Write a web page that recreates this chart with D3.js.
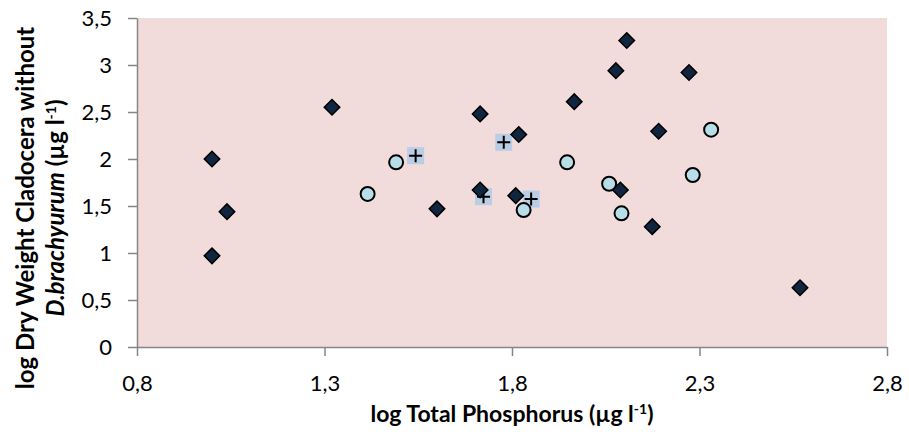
<!DOCTYPE html>
<html>
<head>
<meta charset="utf-8">
<script src="https://cdn.jsdelivr.net/npm/d3@7"></script>
<style>
  body { margin: 0; background: #fff; }
</style>
</head>
<body>
<div id="chart"></div>
<script>
// Data
const diamondX = [1.00, 1.04, 1.00, 1.32, 1.60, 1.715, 1.715, 1.81, 1.818, 1.966, 2.077, 2.106, 2.089, 2.191, 2.174, 2.272, 2.568]
const diamondY = [2.00, 1.44, 0.97, 2.55, 1.47, 2.48, 1.67, 1.61, 2.26, 2.61, 2.94, 3.26, 1.67, 2.295, 1.28, 2.92, 0.63]
const circleX = [1.415, 1.491, 1.831, 1.947, 2.059, 2.092, 2.282, 2.331]
const circleY = [1.628, 1.965, 1.457, 1.965, 1.737, 1.422, 1.83, 2.312]
const crossX = [1.543, 1.778, 1.724, 1.851]
const crossY = [2.035, 2.178, 1.599, 1.574]
const xTicks = [0.8, 1.3, 1.8, 2.3, 2.8]
const yTicks = [0, 0.5, 1, 1.5, 2, 2.5, 3, 3.5]

const toPoints = (xs, ys) => xs.map((x, i) => ({ x: x, y: ys[i] }))
const diamonds = toPoints(diamondX, diamondY)
const circles = toPoints(circleX, circleY)
const crosses = toPoints(crossX, crossY)

// Dimensions
let dimensions = {
  width: 909,
  height: 447,
  margin: { top: 18, bottom: 100, left: 137, right: 22 }
}

const svg = d3.select('#chart')
              .append('svg')
              .attr('width', dimensions.width)
              .attr('height', dimensions.height)

const font = 'Lato, "Open Sans", sans-serif'
const containerWidth = dimensions.width - dimensions.margin.left - dimensions.margin.right
const containerHeight = dimensions.height - dimensions.margin.top - dimensions.margin.bottom

const container = svg.append('g')
                     .attr('transform', `translate(${dimensions.margin.left},${dimensions.margin.top})`)

// Scales
const xScale = d3.scaleLinear().domain([0.8, 2.8]).range([0, containerWidth])
const yScale = d3.scaleLinear().domain([0, 3.5]).range([containerHeight, 0])

const comma = d => String(d).replace('.', ',')

// Plot area
container.append('rect')
         .attr('width', containerWidth)
         .attr('height', containerHeight)
         .attr('fill', '#f2dcdb')

// Axes
const xAxis = d3.axisBottom(xScale).tickValues(xTicks).tickFormat(comma).tickSize(9).tickSizeOuter(0)
const yAxis = d3.axisLeft(yScale).tickValues(yTicks).tickFormat(comma).tickSize(9).tickSizeOuter(0)

const xAxisGroup = container.append('g')
                            .attr('transform', `translate(0,${containerHeight})`)
                            .call(xAxis)
xAxisGroup.selectAll('text')
          .attr('y', 28)
          .attr('font-family', font)
          .attr('font-size', '22px')
          .attr('fill', '#000')

const yAxisGroup = container.append('g').call(yAxis)
yAxisGroup.selectAll('text')
          .attr('x', -25)
          .attr('font-family', font)
          .attr('font-size', '22px')
          .attr('fill', '#000')

container.selectAll('.domain, .tick line')
         .attr('stroke', '#868686')
         .attr('stroke-width', 1.5)

// Crosses (square with plus)
const crossG = container.selectAll('.cross')
                        .data(crosses)
                        .join('g')
                        .attr('class', 'cross')
                        .attr('transform', d => `translate(${xScale(d.x)},${yScale(d.y)})`)
crossG.append('rect')
      .attr('x', -8.5).attr('y', -8.5)
      .attr('width', 17).attr('height', 17)
      .attr('fill', '#b9cde5')
crossG.append('path')
      .attr('d', 'M-6.5,0H6.5M0,-6.5V6.5')
      .attr('stroke', '#000')
      .attr('stroke-width', 2)

// Circles
container.selectAll('.circ')
         .data(circles)
         .join('circle')
         .attr('class', 'circ')
         .attr('cx', d => xScale(d.x))
         .attr('cy', d => yScale(d.y))
         .attr('r', 7)
         .attr('fill', '#b7dee8')
         .attr('stroke', '#000')
         .attr('stroke-width', 2)

// Diamonds
container.selectAll('.diam')
         .data(diamonds)
         .join('path')
         .attr('class', 'diam')
         .attr('d', d3.symbol(d3.symbolSquare, 120)())
         .attr('transform', d => `translate(${xScale(d.x)},${yScale(d.y)}) rotate(45)`)
         .attr('fill', '#10253f')
         .attr('stroke', '#000')
         .attr('stroke-width', 1.5)

// X label
const xLabel = svg.append('text')
                  .attr('x', dimensions.margin.left + containerWidth / 2)
                  .attr('y', 422)
                  .attr('text-anchor', 'middle')
                  .attr('font-family', font)
                  .attr('font-weight', 'bold')
                  .attr('font-size', '23px')
xLabel.append('tspan').text('log Total Phosphorus (µg l')
xLabel.append('tspan').attr('dy', -8).attr('font-size', '14px').text('-1')
xLabel.append('tspan').attr('dy', 8).text(')')

// Y label
const yLabel = svg.append('text')
                  .attr('transform', 'translate(0,208) rotate(-90)')
                  .attr('text-anchor', 'middle')
                  .attr('font-family', font)
                  .attr('font-weight', 'bold')
                  .attr('font-size', '24px')
yLabel.append('tspan').attr('x', 0).attr('y', 34).text('log Dry Weight Cladocera without')
const line2 = yLabel.append('tspan').attr('x', 0).attr('y', 64)
line2.append('tspan').attr('font-style', 'italic').text('D.brachyurum')
line2.append('tspan').text(' (µg l')
line2.append('tspan').attr('dy', -8).attr('font-size', '14px').text('-1')
line2.append('tspan').attr('dy', 8).text(')')
</script>
</body>
</html>
